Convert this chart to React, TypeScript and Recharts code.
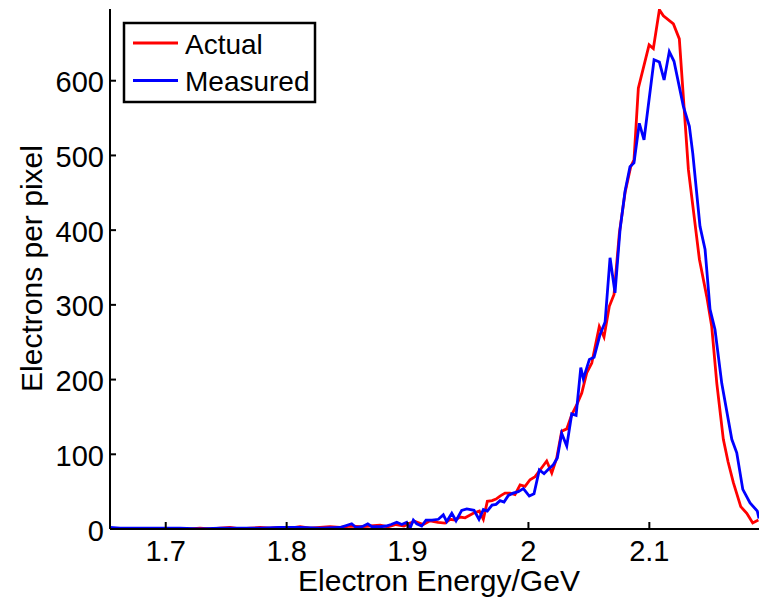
import React from 'react';
import { LineChart, Line, XAxis, YAxis } from 'recharts';

const actualEnergy = [1.6539,1.6705,1.6870,1.7036,1.7201,1.7284,1.7366,1.7449,1.7532,1.7615,1.7697,1.7780,1.7863,1.7945,1.8028,1.8111,1.8194,1.8276,1.8359,1.8442,1.8524,1.8607,1.8690,1.8773,1.8839,1.8905,1.8971,1.9021,1.9062,1.9131,1.9186,1.9252,1.9310,1.9352,1.9393,1.9434,1.9476,1.9544,1.9594,1.9627,1.9660,1.9699,1.9732,1.9765,1.9806,1.9848,1.9889,1.9931,1.9972,2.0013,2.0055,2.0096,2.0151,2.0193,2.0234,2.0275,2.0317,2.0358,2.0399,2.0441,2.0482,2.0524,2.0586,2.0625,2.0669,2.0708,2.0752,2.0799,2.0846,2.0873,2.0909,2.0998,2.1033,2.1083,2.1116,2.1199,2.1248,2.1323,2.1414,2.1475,2.1516,2.1558,2.1612,2.1651,2.1695,2.1756,2.1806,2.1855,2.1902];
const actualCount = [0,0,0,0,0,1,0,1,2,0,1,2,1,2,1,3,1,2,3,2,4,3,4,5,3,6,4,8,10,6,11,9,8,13,12,16,15,21,24,13,37,38,40,44,48,48,46,59,57,66,70,79,91,75,95,131,134,153,166,182,209,222,271,257,298,314,396,450,485,494,590,648,643,695,687,676,656,481,361,311,271,195,120,90,62,30,21,8,12];

const measuredEnergy = [1.6539,1.6622,1.6787,1.6953,1.7118,1.7284,1.7449,1.7615,1.7780,1.7945,1.8111,1.8276,1.8442,1.8538,1.8574,1.8624,1.8671,1.8706,1.8773,1.8822,1.8864,1.8911,1.8952,1.8993,1.9021,1.9048,1.9076,1.9117,1.9153,1.9203,1.9255,1.9296,1.9324,1.9366,1.9401,1.9448,1.9490,1.9550,1.9591,1.9627,1.9660,1.9699,1.9732,1.9765,1.9798,1.9834,1.9873,1.9916,1.9958,2.0007,2.0046,2.0090,2.0129,2.0165,2.0206,2.0239,2.0275,2.0317,2.0358,2.0394,2.0433,2.0454,2.0504,2.0543,2.0592,2.0634,2.0675,2.0716,2.0758,2.0799,2.0840,2.0873,2.0917,2.0956,2.1039,2.1083,2.1122,2.1165,2.1204,2.1281,2.1331,2.1359,2.1419,2.1461,2.1502,2.1543,2.1599,2.1682,2.1723,2.1773,2.1833,2.1893,2.1907];
const measuredCount = [2,1,1,1,1,0,1,1,1,2,2,1,2,7,2,3,7,3,3,4,6,9,6,9,1,12,7,4,12,12,13,19,10,21,11,25,27,25,13,26,24,32,33,38,36,45,48,50,54,44,47,79,74,80,86,95,128,111,154,152,216,201,227,230,260,277,363,316,401,452,485,490,543,521,628,625,601,639,626,566,539,503,405,374,294,267,195,120,102,53,35,24,14];

const xTicks = [1.7, 1.8, 1.9, 2, 2.1];
const yTicks = [0, 100, 200, 300, 400, 500, 600];
const seriesNames = ['Actual', 'Measured'];
const seriesColors = ['#ff0000', '#0000ff'];

const actualData = actualEnergy.map((e, i) => ({ energy: e, value: actualCount[i] }));
const measuredData = measuredEnergy.map((e, i) => ({ energy: e, value: measuredCount[i] }));

const FONT = '"Liberation Sans", Arial, Helvetica, sans-serif';

const fmt = (v: number) => String(Math.round(v * 10) / 10);

const XTick = (props: any) => {
  const { x, y, payload } = props;
  return (
    <g>
      <line x1={x} x2={x} y1={y} y2={y - 7} stroke="#000" strokeWidth={2} />
      <text x={x} y={y + 32} textAnchor="middle" fontSize={29} fontFamily={FONT} fill="#000">
        {fmt(payload.value)}
      </text>
    </g>
  );
};

const YTick = (props: any) => {
  const { x, y, payload } = props;
  return (
    <g>
      <line x1={x} x2={x + 6} y1={y} y2={y} stroke="#000" strokeWidth={2} />
      <text x={x - 6} y={y + 11.5} textAnchor="end" fontSize={29} fontFamily={FONT} fill="#000">
        {fmt(payload.value)}
      </text>
    </g>
  );
};

export default function App() {
  return (
    <div style={{ position: 'absolute', left: 0, top: 0, width: 759, height: 597, background: '#fff' }}>
      <LineChart width={759} height={597} margin={{ top: 9, right: 0, bottom: 0, left: 0 }}>
        <XAxis
          type="number"
          dataKey="energy"
          domain={[1.6539, 2.1907]}
          allowDataOverflow
          ticks={xTicks}
          height={68}
          tickSize={0}
          tickMargin={0}
          tickLine={false}
          axisLine={{ stroke: '#000', strokeWidth: 2 }}
          tick={<XTick />}
          interval={0}
        />
        <YAxis
          type="number"
          dataKey="value"
          domain={[0, 696]}
          allowDataOverflow
          ticks={yTicks}
          width={110}
          tickSize={0}
          tickMargin={0}
          tickLine={false}
          axisLine={{ stroke: '#000', strokeWidth: 2 }}
          tick={<YTick />}
          interval={0}
        />
        <Line data={actualData} dataKey="value" name="Actual" stroke={seriesColors[0]} strokeWidth={2.8} dot={false} isAnimationActive={false} />
        <Line data={measuredData} dataKey="value" name="Measured" stroke={seriesColors[1]} strokeWidth={2.8} dot={false} isAnimationActive={false} />
        <g>
          <rect x={124} y={23} width={191} height={79} fill="#fff" stroke="#000" strokeWidth={2.5} />
          {seriesNames.map((n, i) => (
            <g key={n}>
              <line x1={133} x2={178} y1={43 + i * 37.5} y2={43 + i * 37.5} stroke={seriesColors[i]} strokeWidth={2.8} />
              <text x={185} y={53.5 + i * 37.5} fontSize={28} fontFamily={FONT} fill="#000">{n}</text>
            </g>
          ))}
        </g>
        <text x={439} y={591} textAnchor="middle" fontSize={30} fontFamily={FONT} fill="#000">Electron Energy/GeV</text>
        <text x={41.5} y={268.5} transform="rotate(-90, 41.5, 268.5)" textAnchor="middle" fontSize={30} fontFamily={FONT} fill="#000">Electrons per pixel</text>
      </LineChart>
    </div>
  );
}
